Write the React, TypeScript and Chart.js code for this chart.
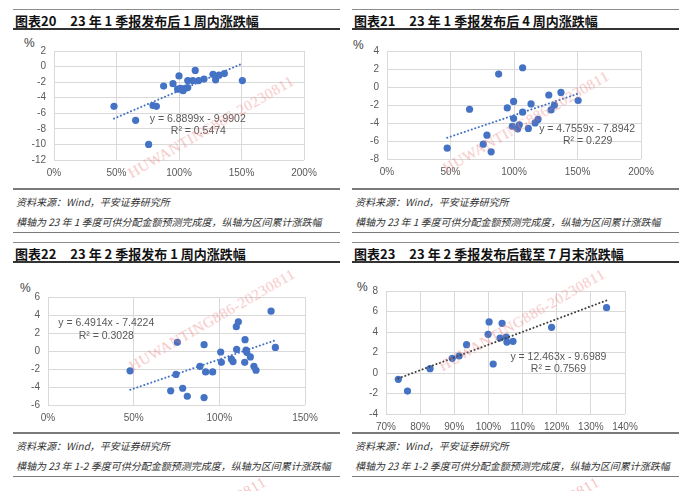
import React, { useEffect, useRef } from "react";
import { Chart, registerables } from "chart.js";
Chart.register(...registerables);

// ---- 图表20 ----
const c20X = [48, 65.3, 75.7, 79.2, 81.9, 87.7, 95.2, 100, 98.9, 101.3, 103.2, 105, 107, 107, 111, 113, 115.7, 120, 127.2, 129.3, 132, 136.3, 150.7];
const c20Y = [-5.1, -6.9, -10.0, -5.0, -5.1, -2.5, -2.2, -1.2, -2.9, -2.8, -3.1, -2.8, -2.7, -1.8, -1.8, -0.5, -1.8, -1.6, -1.0, -1.7, -1.1, -0.9, -1.8];
const c20TrendX = [48, 150];
const c20TrendY = [-6.68, 0.34];

// ---- 图表21 ----
const c21X = [47.4, 65, 75.8, 78.7, 82, 87.9, 94.7, 99.7, 99.7, 98.7, 102.9, 104.2, 106.8, 106.8, 111.3, 113.4, 116.6, 118.9, 127.4, 129.2, 131.8, 137, 150.5];
const c21Y = [-6.8, -2.47, -6.35, -5.35, -7.2, 1.44, -2.33, -1.6, -3.5, -4.36, -4.65, -4.2, 2.14, -2.8, -4.6, -1.88, -3.99, -3.6, -0.89, -2.55, -2.03, -0.6, -1.5];
const c21TrendX = [47.4, 150.5];
const c21TrendY = [-5.64, -0.74];

// ---- 图表22 ----
const c22X = [47.9, 74.7, 75.5, 71.6, 78.6, 81.3, 88.7, 91.1, 91.1, 92, 96.1, 100.8, 101.2, 107, 108, 109.9, 111.1, 110.1, 115, 114.8, 115.6, 116, 118.1, 120.2, 121.4, 130.2, 132.7];
const c22Y = [-2.2, -2.6, 0.96, -4.43, -4.14, -5.03, -1.7, 0.7, -5.17, -2.33, -2.33, -0.11, -1.26, -0.89, -1.18, 2.7, 3.25, 0.18, 1.26, -1.26, 0.11, -0.15, -0.66, -1.7, -2.14, 4.43, 0.4];
const c22TrendX = [48, 132.7];
const c22TrendY = [-4.31, 1.19];

// ---- 图表23 ----
const c23X = [73.6, 76.3, 82.9, 89.4, 91.4, 93.6, 99.9, 100.2, 101.4, 103.4, 104.0, 105.2, 105.4, 107.2, 118.5, 134.6];
const c23Y = [-0.62, -1.76, 0.42, 1.43, 1.66, 2.76, 3.77, 4.98, 0.88, 3.41, 4.85, 3.51, 3.02, 3.09, 4.46, 6.37];
const c23TrendX = [73.6, 134.6];
const c23TrendY = [-0.53, 7.08];

const CJK = '"Noto Sans CJK SC", "Noto Sans", sans-serif';
const TICK_FONT = '"Liberation Sans", Arial, sans-serif';

const eqPlugin = {
  id: "eqLabels",
  afterDatasetsDraw(chart: any, _args: any, opts: any) {
    const items = (opts && opts.items) || [];
    const ctx = chart.ctx;
    const xs = chart.scales.x;
    const ys = chart.scales.y;
    ctx.save();
    ctx.fillStyle = "#595959";
    ctx.font = '10.5px "Liberation Sans", Arial, sans-serif';
    ctx.textAlign = "center";
    ctx.textBaseline = "middle";
    for (const it of items) {
      ctx.fillText(it.text, xs.getPixelForValue(it.x), ys.getPixelForValue(it.y));
    }
    ctx.restore();
  },
};

type Spec = {
  left: number; top: number; width: number; height: number;
  yW: number; xH: number; padTop: number; padRight: number;
  xs: number[]; ys: number[]; tx: number[]; ty: number[];
  xMin: number; xMax: number; xStep: number;
  yMin: number; yMax: number; yStep: number;
  trendColor: string;
  labels: { x: number; y: number; text: string }[];
};

function Scatter({ spec }: { spec: Spec }) {
  const ref = useRef<HTMLCanvasElement>(null);
  useEffect(() => {
    const chart = new Chart(ref.current as HTMLCanvasElement, {
      type: "scatter",
      data: {
        datasets: [
          {
            data: spec.tx.map((x, i) => ({ x, y: spec.ty[i] })),
            showLine: true,
            borderColor: spec.trendColor,
            borderWidth: 2,
            borderDash: [0.1, 3.6],
            borderCapStyle: "round",
            pointRadius: 0,
            fill: false,
            order: 0,
          } as any,
          {
            data: spec.xs.map((x, i) => ({ x, y: spec.ys[i] })),
            backgroundColor: "#4472C4",
            borderColor: "#4472C4",
            pointRadius: 3.6,
            pointBorderWidth: 0,
            order: 1,
          } as any,
        ],
      },
      options: {
        responsive: false,
        animation: false,
        layout: { padding: { top: spec.padTop, right: spec.padRight, left: 0, bottom: 0 } },
        plugins: {
          legend: { display: false },
          tooltip: { enabled: false },
          eqLabels: { items: spec.labels },
        } as any,
        scales: {
          x: {
            type: "linear",
            min: spec.xMin,
            max: spec.xMax,
            ticks: {
              stepSize: spec.xStep,
              autoSkip: false,
              maxRotation: 0,
              padding: 7,
              color: "#595959",
              font: { family: TICK_FONT, size: 10 },
              callback: (v: any) => `${Math.round(v)}%`,
            },
            grid: { color: "#d9d9d9", drawTicks: false, lineWidth: 1 },
            border: { display: false },
            afterFit: (s: any) => { s.height = spec.xH; },
          },
          y: {
            type: "linear",
            min: spec.yMin,
            max: spec.yMax,
            ticks: {
              stepSize: spec.yStep,
              autoSkip: false,
              padding: 8,
              color: "#595959",
              font: { family: TICK_FONT, size: 10 },
            },
            grid: { color: "#d9d9d9", drawTicks: false, lineWidth: 1 },
            border: { display: false },
            afterFit: (s: any) => { s.width = spec.yW; },
          },
        },
      } as any,
      plugins: [eqPlugin],
    });
    return () => chart.destroy();
  }, []);
  return (
    <canvas
      ref={ref}
      width={spec.width}
      height={spec.height}
      style={{ position: "absolute", left: spec.left, top: spec.top, width: spec.width, height: spec.height }}
    />
  );
}

const spec20: Spec = {
  left: 14, top: 35, width: 310, height: 150, yW: 40, xH: 25, padTop: 16, padRight: 20,
  xs: c20X, ys: c20Y, tx: c20TrendX, ty: c20TrendY,
  xMin: 0, xMax: 200, xStep: 50, yMin: -12, yMax: 2, yStep: 2, trendColor: "#4472C4",
  labels: [
    { x: 115, y: -6.76, text: "y = 6.8899x - 9.9902" },
    { x: 115.5, y: -8.35, text: "R² = 0.5474" },
  ],
};
const spec21: Spec = {
  left: 347, top: 35, width: 314, height: 150, yW: 40, xH: 26, padTop: 16, padRight: 20,
  xs: c21X, ys: c21Y, tx: c21TrendX, ty: c21TrendY,
  xMin: 0, xMax: 200, xStep: 50, yMin: -8, yMax: 4, yStep: 2, trendColor: "#4472C4",
  labels: [
    { x: 157.6, y: -4.65, text: "y = 4.7559x - 7.8942" },
    { x: 158, y: -6.06, text: "R² = 0.229" },
  ],
};
const spec22: Spec = {
  left: 8, top: 280, width: 317, height: 150, yW: 40, xH: 25, padTop: 17, padRight: 20,
  xs: c22X, ys: c22Y, tx: c22TrendX, ty: c22TrendY,
  xMin: 0, xMax: 150, xStep: 50, yMin: -6, yMax: 6, yStep: 2, trendColor: "#4472C4",
  labels: [
    { x: 34, y: 3.15, text: "y = 6.4914x - 7.4224" },
    { x: 34, y: 1.66, text: "R² = 0.3028" },
  ],
};
const spec23: Spec = {
  left: 346, top: 276, width: 299, height: 154, yW: 40, xH: 16, padTop: 15, padRight: 20,
  xs: c23X, ys: c23Y, tx: c23TrendX, ty: c23TrendY,
  xMin: 70, xMax: 140, xStep: 10, yMin: -4, yMax: 8, yStep: 2, trendColor: "#404040",
  labels: [
    { x: 120.5, y: 1.56, text: "y = 12.463x - 9.6989" },
    { x: 120.5, y: 0.42, text: "R² = 0.7569" },
  ],
};

function HLine({ x, y, w, h, c }: { x: number; y: number; w: number; h: number; c: string }) {
  return <div style={{ position: "absolute", left: x, top: y, width: w, height: h, background: c }} />;
}

function Txt({ x, y, children, style }: any) {
  return (
    <div style={{ position: "absolute", left: x, top: y, whiteSpace: "nowrap", lineHeight: "14px", ...style }}>
      {children}
    </div>
  );
}

function Section({ x, y0, capTop, num, title, note }: { x: number; y0: number; capTop: number; num: string; title: string; note: string }) {
  const W = 327;
  return (
    <>
      <HLine x={x} y={y0} w={W} h={1} c="#8c8c8c" />
      <Txt x={x + 2} y={y0 + 4} style={{ fontFamily: CJK, fontWeight: 700, fontSize: 13, color: "#111", lineHeight: "16px" }}>
        {num}
        <span style={{ marginLeft: 14 }}>{title}</span>
      </Txt>
      <HLine x={x} y={y0 + 19} w={W} h={2} c="#333" />
      <HLine x={x} y={capTop} w={W} h={2} c="#7a7a7a" />
      <Txt x={x + 3} y={capTop + 7} style={{ fontFamily: CJK, fontStyle: "italic", fontSize: 10, color: "#333" }}>
        资料来源：Wind，平安证券研究所
      </Txt>
      <Txt x={x + 3} y={capTop + 27} style={{ fontFamily: CJK, fontStyle: "italic", fontSize: 10, color: "#333" }}>
        {note}
      </Txt>
      <HLine x={x} y={capTop + 44} w={W} h={1} c="#7a7a7a" />
    </>
  );
}

function Watermark({ cx, cy }: { cx: number; cy: number }) {
  return (
    <div
      style={{
        position: "absolute",
        left: cx - 100,
        top: cy - 9,
        width: 200,
        height: 18,
        textAlign: "center",
        lineHeight: "18px",
        fontFamily: '"Liberation Serif", serif',
        fontSize: 15,
        color: "rgba(235, 120, 120, 0.45)",
        transform: "rotate(-30deg)",
        whiteSpace: "nowrap",
        letterSpacing: 0.5,
        pointerEvents: "none",
      }}
    >
      HUWANTING886-20230811
    </div>
  );
}

export default function App() {
  return (
    <div
      style={{
        position: "absolute",
        left: 0,
        top: 0,
        width: 700,
        height: 491,
        background: "#fff",
        overflow: "hidden",
      }}
    >
      <Section x={13} y0={9} capTop={188} num="图表20" title="23 年 1 季报发布后 1 周内涨跌幅" note="横轴为 23 年 1 季度可供分配金额预测完成度，纵轴为区间累计涨跌幅" />
      <Section x={352} y0={9} capTop={188} num="图表21" title="23 年 1 季报发布后 4 周内涨跌幅" note="横轴为 23 年 1 季度可供分配金额预测完成度，纵轴为区间累计涨跌幅" />
      <Section x={13} y0={242} capTop={432} num="图表22" title="23 年 2 季报发布 1 周内涨跌幅" note="横轴为 23 年 1-2 季度可供分配金额预测完成度，纵轴为区间累计涨跌幅" />
      <Section x={352} y0={242} capTop={432} num="图表23" title="23 年 2 季报发布后截至 7 月末涨跌幅" note="横轴为 23 年 1-2 季度可供分配金额预测完成度，纵轴为区间累计涨跌幅" />

      <Txt x={24} y={36} style={{ fontFamily: TICK_FONT, fontSize: 12, color: "#404040" }}>%</Txt>
      <Txt x={353} y={38} style={{ fontFamily: TICK_FONT, fontSize: 12, color: "#404040" }}>%</Txt>
      <Txt x={20} y={281} style={{ fontFamily: TICK_FONT, fontSize: 12, color: "#404040" }}>%</Txt>
      <Txt x={357} y={280} style={{ fontFamily: TICK_FONT, fontSize: 12, color: "#404040" }}>%</Txt>

      <Scatter spec={spec20} />
      <Scatter spec={spec21} />
      <Scatter spec={spec22} />
      <Scatter spec={spec23} />

      <Watermark cx={211} cy={127} />
      <Watermark cx={526} cy={122} />
      <Watermark cx={212} cy={320} />
      <Watermark cx={522} cy={320} />
      <Watermark cx={183} cy={528} />
      <Watermark cx={516} cy={528} />
    </div>
  );
}
